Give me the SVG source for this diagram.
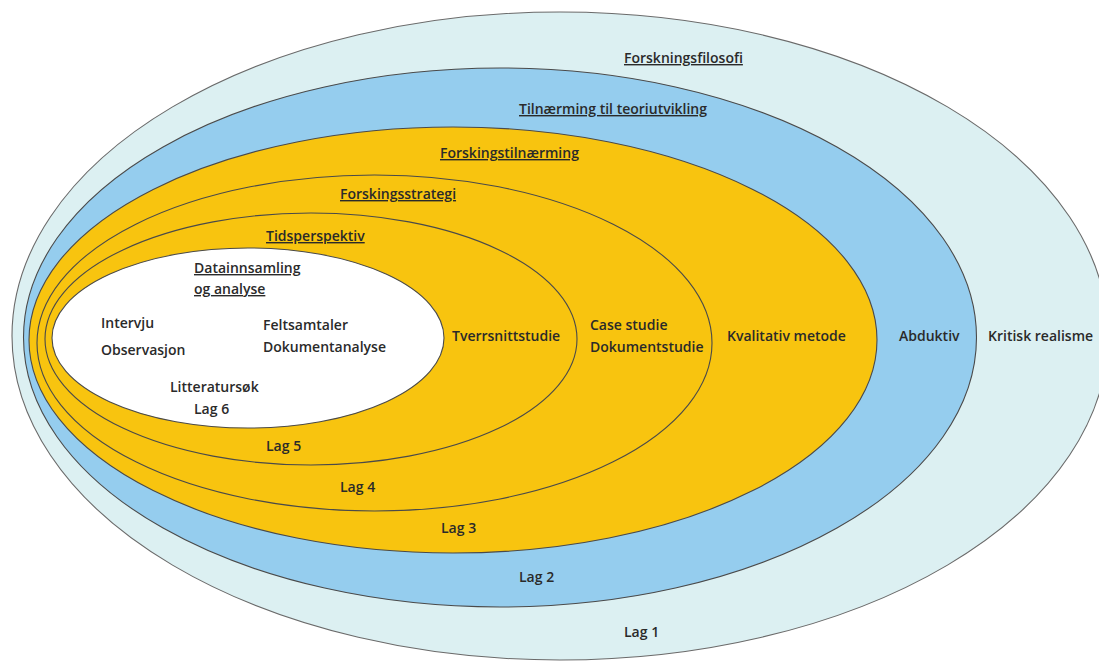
<svg xmlns="http://www.w3.org/2000/svg" width="1099" height="666" viewBox="0 0 1099 666">
  <style>
    .ring { stroke: #4a4a4a; stroke-width: 1.1; }
    .l1 { fill: #dcf0f2; stroke: #6a6a6a; }
    .l2 { fill: #95cdee; }
    .l3 { fill: #f8c40f; }
    .l4 { fill: #f8c40f; }
    .l5 { fill: #f8c40f; }
    .l6 { fill: #ffffff; }
    text { font-family: "Open Sans", "Liberation Sans", sans-serif; font-weight: 600; font-size: 14px; fill: #2a2a2a; }
    .title { text-decoration: underline; }
  </style>
  <rect width="1099" height="666" fill="#ffffff"/>

  <g id="lag1">
    <ellipse class="ring l1" cx="560" cy="336" rx="548" ry="324"/>
    <text class="title" x="624" y="63">Forskningsfilosofi</text>
    <text x="988" y="341">Kritisk realisme</text>
    <text x="624" y="637">Lag 1</text>
  </g>

  <g id="lag2">
    <ellipse class="ring l2" cx="500" cy="337.5" rx="476.5" ry="269.5"/>
    <text class="title" x="519" y="114">Tilnærming til teoriutvikling</text>
    <text x="899" y="341">Abduktiv</text>
    <text x="519" y="582">Lag 2</text>
  </g>

  <g id="lag3">
    <ellipse class="ring l3" cx="453" cy="340" rx="424" ry="213"/>
    <text class="title" x="440" y="158">Forskingstilnærming</text>
    <text x="727" y="341">Kvalitativ metode</text>
    <text x="441" y="533">Lag 3</text>
  </g>

  <g id="lag4">
    <ellipse class="ring l4" cx="374.5" cy="343" rx="337.5" ry="168"/>
    <text class="title" x="340" y="199">Forskingsstrategi</text>
    <text x="590" y="330">Case studie</text>
    <text x="590" y="352">Dokumentstudie</text>
    <text x="340" y="492">Lag 4</text>
  </g>

  <g id="lag5">
    <ellipse class="ring l5" cx="311" cy="339" rx="266" ry="126"/>
    <text class="title" x="266" y="241">Tidsperspektiv</text>
    <text x="452" y="341">Tverrsnittstudie</text>
    <text x="266" y="451">Lag 5</text>
  </g>

  <g id="lag6">
    <ellipse class="ring l6" cx="248" cy="338" rx="196" ry="90"/>
    <text class="title" x="194" y="273">Datainnsamling</text>
    <text class="title" x="194" y="294">og analyse</text>
    <text x="101" y="328">Intervju</text>
    <text x="101" y="355">Observasjon</text>
    <text x="263" y="330">Feltsamtaler</text>
    <text x="263" y="352">Dokumentanalyse</text>
    <text x="170" y="392">Litteratursøk</text>
    <text x="194" y="414">Lag 6</text>
  </g>

  <g id="connectors"/>
</svg>
